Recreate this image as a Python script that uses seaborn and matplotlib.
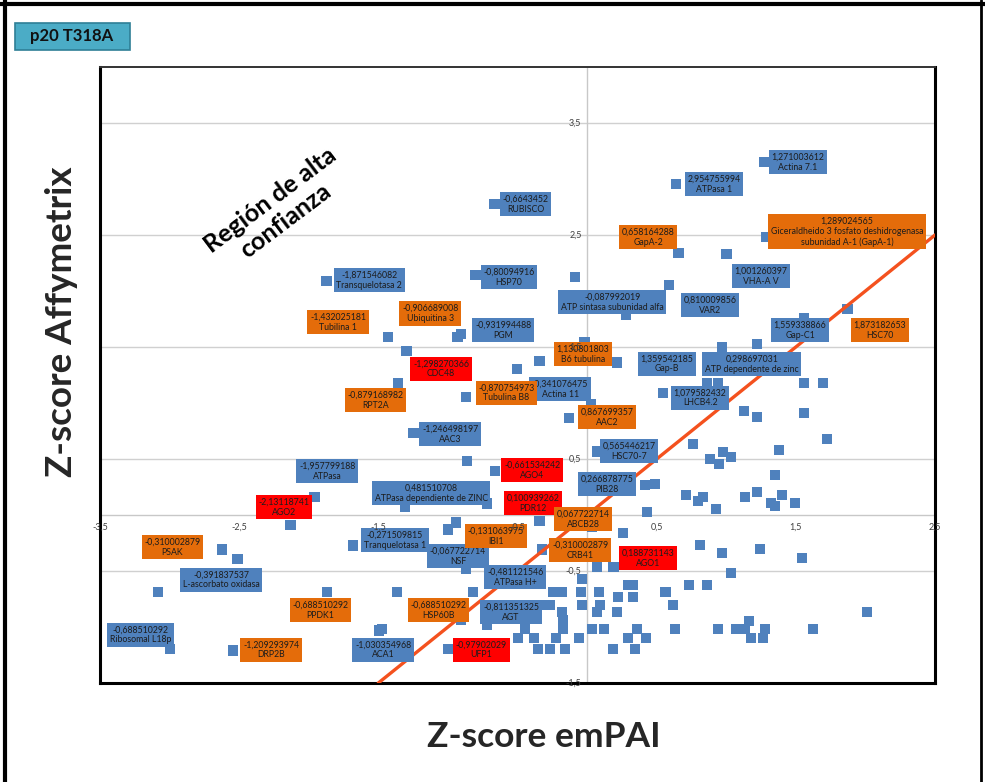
import matplotlib
matplotlib.use("Agg")
import matplotlib.pyplot as plt
import seaborn as sns
import pandas as pd
from matplotlib.lines import Line2D
from matplotlib.patches import Rectangle

sns.set_theme(style="white")
plt.rcParams["font.family"] = ["Lato", "DejaVu Sans"]

# ---- proteins without a data label (Z-score emPAI, Z-score Affymetrix) ----
other_empai = [
    0.589, 0.280, 1.221, -0.503, 0.546, 0.862, 0.941, 1.559, 1.695,
    1.128, 1.221, 1.559, 1.724, 0.761, 1.379, 0.977, 1.034, 0.884, 0.948,
    1.351, 0.711, 0.797, 0.833, 0.927, 1.135, 1.221, 1.322, 1.351, 1.401,
    1.494, 0.029, 0.489, -1.307, 0.431, 0.036, 0.259, 0.072, -0.036,
    0.295, 0.330, -0.819, -0.244, -0.180, -0.043, 0.086, 0.568, 0.223,
    0.330, -0.309, -0.266, -0.036, 0.093, 0.618, -0.180, 0.072, 0.216,
    -0.905, -0.172, -1.473, -0.445, -0.172, 0.036, 0.122, 0.359, 0.632,
    -0.496, -0.381, -0.223, -0.057, 0.295, 0.424, -0.999, -0.352, -0.266,
    -0.158, 0.187, 0.345, 0.812, 0.970, 1.243, 1.545, 1.034, 0.560,
    0.733, 0.862, 2.011, 1.164, 0.941, 1.070, 1.135, 1.279, 1.624, 1.178,
    1.264, -2.996,
]
other_affy = [
    2.054, 1.786, 1.527, 1.304, 1.089, 1.179, 1.179, 1.179, 1.179,
    0.929, 0.875, 0.911, 0.679, 0.634, 0.580, 0.5625, 0.518, 0.500, 0.455,
    0.357, 0.179, 0.125, 0.161, 0.054, 0.161, 0.205, 0.107, 0.080, 0.179,
    0.107, 0.991, 0.277, 0.071, 0.027, -0.107, -0.161, -0.464, -0.571,
    -0.625, -0.625, -0.6875, -0.6875, -0.6875, -0.6875, -0.6875, -0.6875, -0.732,
    -0.732, -0.804, -0.804, -0.804, -0.804, -0.804, -0.866, -0.866, -0.866,
    -0.9375, -0.9375, -1.018, -1.018, -1.018, -1.018, -1.018, -1.018, -1.018,
    -1.098, -1.098, -1.098, -1.098, -1.098, -1.098, -1.196, -1.196, -1.196,
    -1.196, -1.196, -1.196, -0.268, -0.339, -0.304, -0.384, -0.518, -0.6875,
    -0.625, -0.625, -0.866, -0.946, -1.018, -1.018, -1.018, -1.018, -1.018, -1.098,
    -1.098, -1.196,
]

# ---- labelled proteins ----
lab_names = [
    "RUBISCO", "Transquelotasa 2", "HSP70", "Actina 7.1", "ATPasa 1",
    "Giceraldheido 3 fosfato deshidrogenasa\nsubunidad A-1 (GapA-1)",
    "GapA-2", "VHA-A V", "VAR2", "ATP sintasa subunidad alfa", "Gap-C1",
    "HSC70", "Tubilina 1", "Ubiquitina 3", "PGM", "CDC48", "B6 tubulina",
    "Gap-B", "ATP dependente de zinc", "LHCB4.2", "Actina 11", "Tubulina B8",
    "RPT2A", "AAC2", "AAC3", "HSC70-7", "AGO4", "ATPasa dependiente de ZINC",
    "PIB28", "PDR12", "ABCB28", "ATPasa", "AGO2", "PSAK",
    "L-ascorbato oxidasa", "Ribosomal L18p", "PPDK1", "DRP2B", "ACA1",
    "Tranquelotasa 1", "NSF", "IBI1", "CRB41", "AGO1", "ATPasa H+",
    "HSP60B", "AGT", "UFP1",
]
lab_values = [
    "-0,6643452", "-1,871546082", "-0,80094916", "1,271003612", "2,954755994",
    "1,289024565", "0,658164288", "1,001260397", "0,810009856", "-0,087992019",
    "1,559338866", "1,873182653", "-1,432025181", "-0,906689008", "-0,931994488",
    "-1,298270366", "1,130801803", "1,359542185", "0,298697031", "1,079582432",
    "-0,341076475", "-0,870754973", "-0,879168982", "0,867699357", "-1,246498197",
    "0,565446217", "-0,661534242", "0,481510708", "0,266878775", "0,100939262",
    "0,067722714", "-1,957799188", "-2,13118741", "-0,310002879", "-0,391837537",
    "-0,688510292", "-0,688510292", "-1,209293974", "-1,030354968", "-0,271509815",
    "-0,067722714", "-0,131063975", "-0,310002879", "0,188731143", "-0,481121546",
    "-0,688510292", "-0,811351325", "-0,97902029",
]
# which coordinate the printed value gives ("x" = emPAI, "y" = Affymetrix, "" = neither)
lab_axis = [
    "x", "x", "x", "x", "y", "x", "x", "x", "x", "x", "x", "x", "x", "x", "x",
    "x", "", "y", "", "y", "x", "x", "", "y", "x", "y", "x", "y", "y", "y",
    "", "x", "x", "y", "y", "y", "y", "y", "y", "y", "y", "y", "y", "x", "y",
    "y", "y", "y",
]
# remaining coordinates (None where the printed value is used)
lab_empai = [
    None, None, None, None, 0.64, None, None, None, None, None, None, None,
    None, None, None, None, -0.02, 0.216, 0.970, 0.90, None, None, -1.358,
    -0.129, None, 0.072, None, -0.862, 0.417, -0.718, -0.34, None, None,
    -2.622, -2.514, -3.082, -1.868, -2.543, -1.494, -1.681, -0.941, -0.999,
    -0.323, None, -0.869, -1.365, -0.55, -0.718,
]
lab_affy = [
    2.777, 2.089, 2.143, 3.152, None, 2.482, 2.339, 2.33, 1.88, 2.125, 1.759,
    1.84, 1.589, 1.616, 1.589, 1.464, 1.545, None, 1.500, None, 1.375, 1.054,
    1.179, None, 0.732, None, 0.393, None, None, None, -0.054, 0.161, -0.089,
    None, None, None, None, None, None, None, None, None, None, -0.464, None,
    None, None, None,
]
lab_kind = [
    "b", "b", "b", "b", "b", "o", "o", "b", "b", "b", "b", "o", "o", "o", "b",
    "r", "o", "b", "b", "b", "b", "o", "o", "o", "b", "b", "r", "b", "b", "r",
    "o", "b", "r", "o", "b", "b", "o", "o", "b", "b", "b", "o", "o", "r", "b",
    "o", "b", "r",
]
# centre of each label box (data units)
lab_box_x = [
    -0.44, -1.566, -0.56, 1.516, 0.912, 1.868, 0.438, 1.25, 0.884, 0.18, 1.53,
    2.105, -1.789, -1.128, -0.603, -1.049, -0.029, 0.575, 1.185, 0.812, -0.194,
    -0.58, -1.523, 0.144, -0.984, 0.302, -0.395, -1.12, 0.144, -0.388, -0.029,
    -1.868, -2.177, -2.98, -2.63, -3.21, -1.918, -2.27, -1.466, -1.38, -0.927,
    -0.654, -0.05, 0.438, -0.517, -1.07, -0.546, -0.76,
]
lab_box_y = [
    2.777, 2.098, 2.125, 3.152, 2.955, 2.527, 2.482, 2.134, 1.875, 1.90, 1.652,
    1.652, 1.723, 1.80, 1.652, 1.304, 1.4375, 1.35, 1.348, 1.045, 1.125, 1.09,
    1.027, 0.875, 0.723, 0.571, 0.402, 0.196, 0.277, 0.107, -0.036, 0.393,
    0.071, -0.286, -0.58, -1.07, -0.848, -1.205, -1.205, -0.223, -0.366,
    -0.1875, -0.3125, -0.384, -0.554, -0.848, -0.866, -1.205,
]

# reference line y = x
diag_x = [-1.5, 2.5]
diag_y = [-1.5, 2.5]

x_ticks = [-3.5, -2.5, -1.5, -0.5, 0.5, 1.5, 2.5]
x_tick_text = ["-3,5", "-2,5", "-1,5", "-0,5", "0,5", "1,5", "2,5"]
y_ticks = [-1.5, -0.5, 0.5, 1.5, 2.5, 3.5]
y_tick_text = ["-1,5", "-0,5", "0,5", "1,5", "2,5", "3,5"]

kind_colour = {"b": "#4F81BD", "o": "#E46C0A", "r": "#FF0000"}
point_colour = "#4F81BD"

# resolve labelled coordinates from the printed values
lab_x, lab_y = [], []
for val, ax_name, ex, ey in zip(lab_values, lab_axis, lab_empai, lab_affy):
    v = float(val.replace(",", "."))
    lab_x.append(v if ax_name == "x" else ex)
    lab_y.append(v if ax_name == "y" else ey)

df = pd.DataFrame({
    "emPAI": other_empai + lab_x,
    "Affy": other_affy + lab_y,
})

W, H = 985, 782
fig = plt.figure(figsize=(W / 100, H / 100), dpi=100)
ax = fig.add_axes([100 / W, (H - 683) / H, 835 / W, (683 - 67) / H])
ax.set_xlim(-3.5, 2.5)
ax.set_ylim(-1.5, 4.0)

# gridlines and axes through the origin
ax.set_xticks([])
ax.set_yticks(y_ticks)
ax.yaxis.grid(True, color="#D0D0D0", lw=1.0)
ax.tick_params(left=False, labelleft=False, bottom=False, labelbottom=False)
ax.axhline(0, color="#C8C8C8", lw=1.0, zorder=1)
ax.axvline(0, color="#C8C8C8", lw=1.0, zorder=1)
for side in ["left", "bottom", "right"]:
    ax.spines[side].set_color("black")
    ax.spines[side].set_linewidth(2.2)
ax.spines["top"].set_color("#333333")
ax.spines["top"].set_linewidth(1.4)

sns.scatterplot(data=df, x="emPAI", y="Affy", marker="s", s=58,
                color=point_colour, edgecolor="none", linewidth=0,
                ax=ax, zorder=3, legend=False)
sns.lineplot(x=diag_x, y=diag_y, color="#F4511E", lw=2.4, ax=ax, zorder=4)
ax.set_xlabel("")
ax.set_ylabel("")

for name, val, kind, bx, by in zip(lab_names, lab_values, lab_kind,
                                   lab_box_x, lab_box_y):
    ax.text(bx, by, f"{val}\n{name}", ha="center", va="center",
            fontsize=6.3, color="#1C1C1C", linespacing=1.15, zorder=5,
            multialignment="center",
            bbox=dict(boxstyle="square,pad=0.3", fc=kind_colour[kind], ec="none"))

for t, s in zip(x_ticks, x_tick_text):
    ax.annotate(s, (t, 0), xytext=(0, -9), textcoords="offset points",
                ha="center", va="center", fontsize=6.5, color="#404040",
                zorder=6, annotation_clip=False)
for t, s in zip(y_ticks, y_tick_text):
    ax.annotate(s, (0, t), xytext=(-4, 0), textcoords="offset points",
                ha="right", va="center", fontsize=6.5, color="#404040",
                zorder=6, annotation_clip=False)

ax.text(-2.22, 2.72, "Región de alta\nconfianza", rotation=37,
        rotation_mode="anchor", ha="center", va="center", fontsize=18,
        fontweight="bold", color="black", linespacing=1.1, zorder=6)

fig.text(62 / W, 1 - 322 / H, "Z-score Affymetrix", rotation=90,
         ha="center", va="center", fontsize=26.5, fontweight="bold")
fig.text(544 / W, 1 - 737 / H, "Z-score emPAI", ha="center", va="center",
         fontsize=25.5, fontweight="bold")

# title badge
fig.add_artist(Rectangle((15 / W, 1 - 50 / H), 115 / W, 27 / H,
                         transform=fig.transFigure, fc="#4BACC6",
                         ec="#2F7F96", lw=1.2))
fig.text(72 / W, 1 - 36.5 / H, "p20 T318A", ha="center", va="center",
         fontsize=12, fontweight="bold", color="#111111")

# slide frame
fig.add_artist(Line2D([0, 1], [1 - 4 / H, 1 - 4 / H], transform=fig.transFigure,
                      color="black", lw=3))
fig.add_artist(Line2D([5 / W, 5 / W], [0, 1], transform=fig.transFigure,
                      color="black", lw=3))
fig.add_artist(Line2D([981 / W, 981 / W], [0, 1], transform=fig.transFigure,
                      color="black", lw=2))

fig.savefig("out.png", dpi=100)
